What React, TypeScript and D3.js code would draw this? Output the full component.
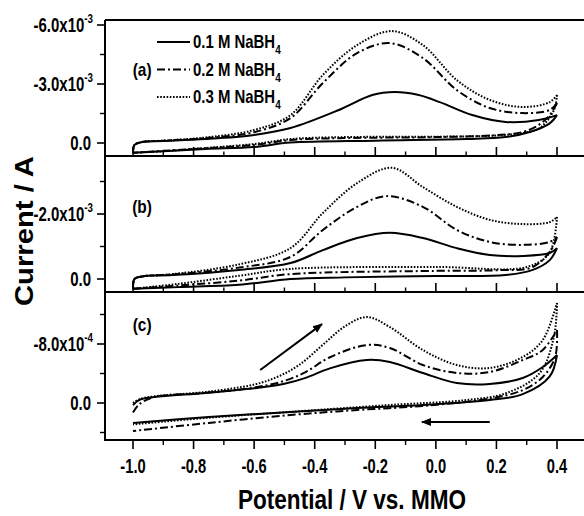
import * as d3 from "d3";

type Pt = [number, number];

// potential axis (V vs. MMO)
const xMajor = [-1.0, -0.8, -0.6, -0.4, -0.2, 0.0, 0.2, 0.4];
const xMinor = [-0.9, -0.7, -0.5, -0.3, -0.1, 0.1, 0.3];
const xLabels = ["-1.0", "-0.8", "-0.6", "-0.4", "-0.2", "0.0", "0.2", "0.4"];

const seriesNames = ["0.1 M NaBH", "0.2 M NaBH", "0.3 M NaBH"];
const panelTags = ["(a)", "(b)", "(c)"];

// panel (a), current in 1e-3 A
const a01Fwd: Pt[] = [[-1.0, 0.5], [-0.995, 0.1], [-0.97, -0.05], [-0.9, -0.1], [-0.76, -0.2], [-0.6, -0.41], [-0.48, -0.76], [-0.32, -1.68], [-0.21, -2.44], [-0.135, -2.59], [-0.06, -2.45], [0.013, -2.08], [0.12, -1.42], [0.23, -1.07], [0.34, -1.17], [0.4, -1.42]];
const a01Rev: Pt[] = [[0.4, -1.42], [0.376, -1.0], [0.31, -0.56], [0.23, -0.3], [0.1, -0.2], [-0.2, -0.12], [-0.48, -0.02], [-0.6, 0.2], [-0.76, 0.3], [-0.9, 0.42], [-1.0, 0.5]];
const a02Fwd: Pt[] = [[-1.0, 0.5], [-0.995, 0.1], [-0.97, -0.05], [-0.9, -0.12], [-0.76, -0.25], [-0.6, -0.55], [-0.48, -1.27], [-0.373, -3.05], [-0.26, -4.57], [-0.152, -5.08], [-0.043, -4.32], [0.069, -2.69], [0.178, -1.78], [0.287, -1.52], [0.376, -1.68], [0.4, -2.03]];
const a02Rev: Pt[] = [[0.4, -2.03], [0.376, -1.42], [0.34, -0.92], [0.287, -0.56], [0.2, -0.4], [0.0, -0.3], [-0.3, -0.25], [-0.48, -0.15], [-0.6, 0.1], [-0.8, 0.3], [-0.9, 0.4], [-1.0, 0.5]];
const a03Fwd: Pt[] = [[-1.0, 0.5], [-0.995, 0.1], [-0.97, -0.05], [-0.9, -0.12], [-0.76, -0.28], [-0.6, -0.66], [-0.48, -1.42], [-0.373, -3.46], [-0.26, -4.98], [-0.145, -5.69], [-0.043, -4.98], [0.069, -3.2], [0.178, -2.19], [0.287, -1.83], [0.376, -2.08], [0.4, -2.44]];
const a03Rev: Pt[] = [[0.4, -2.44], [0.39, -1.68], [0.343, -0.76], [0.287, -0.51], [0.2, -0.38], [0.0, -0.32], [-0.3, -0.3], [-0.48, -0.2], [-0.6, 0.05], [-0.8, 0.3], [-0.9, 0.42], [-1.0, 0.5]];

// panel (b), current in 1e-3 A
const b01Fwd: Pt[] = [[-1.0, 0.3], [-0.995, 0.0], [-0.97, -0.08], [-0.87, -0.12], [-0.65, -0.28], [-0.48, -0.49], [-0.373, -0.89], [-0.26, -1.26], [-0.152, -1.42], [-0.043, -1.26], [0.069, -0.95], [0.178, -0.74], [0.287, -0.71], [0.376, -0.8], [0.4, -0.95]];
const b01Rev: Pt[] = [[0.4, -0.95], [0.376, -0.58], [0.32, -0.28], [0.23, -0.12], [0.0, -0.09], [-0.3, -0.05], [-0.48, 0.0], [-0.65, 0.18], [-0.85, 0.25], [-1.0, 0.3]];
const b02Fwd: Pt[] = [[-1.0, 0.3], [-0.995, 0.0], [-0.97, -0.08], [-0.87, -0.14], [-0.65, -0.35], [-0.48, -0.68], [-0.373, -1.51], [-0.26, -2.22], [-0.162, -2.55], [-0.043, -2.22], [0.069, -1.51], [0.178, -1.14], [0.287, -1.05], [0.376, -1.14], [0.4, -1.29]];
const b02Rev: Pt[] = [[0.4, -1.29], [0.38, -0.89], [0.32, -0.37], [0.2, -0.27], [0.0, -0.25], [-0.48, -0.15], [-0.65, 0.05], [-0.85, 0.2], [-1.0, 0.3]];
const b03Fwd: Pt[] = [[-1.0, 0.3], [-0.995, 0.0], [-0.97, -0.08], [-0.87, -0.15], [-0.65, -0.45], [-0.48, -0.95], [-0.373, -2.03], [-0.26, -2.95], [-0.145, -3.42], [-0.043, -2.83], [0.069, -2.22], [0.178, -1.82], [0.287, -1.69], [0.376, -1.75], [0.4, -1.91]];
const b03Rev: Pt[] = [[0.4, -1.91], [0.375, -0.8], [0.3, -0.37], [0.0, -0.37], [-0.48, -0.31], [-0.65, -0.1], [-0.85, 0.15], [-1.0, 0.3]];

// panel (c), current in 1e-4 A
const c01Fwd: Pt[] = [[-1.0, 0.3], [-0.98, -0.4], [-0.93, -0.8], [-0.76, -1.36], [-0.6, -2.0], [-0.5, -2.6], [-0.43, -3.4], [-0.35, -4.7], [-0.228, -5.83], [-0.152, -5.56], [-0.043, -4.07], [0.069, -2.71], [0.178, -2.58], [0.287, -3.39], [0.353, -4.88], [0.4, -6.51]];
const c01Rev: Pt[] = [[0.4, -6.51], [0.376, -3.6], [0.287, -1.2], [0.178, -0.41], [-0.043, 0.27], [-0.26, 0.68], [-0.48, 1.22], [-0.75, 1.9], [-1.0, 2.7]];
const c02Fwd: Pt[] = [[-1.0, 1.3], [-0.98, 0.2], [-0.93, -0.8], [-0.76, -1.36], [-0.6, -2.1], [-0.5, -3.0], [-0.43, -4.2], [-0.35, -6.2], [-0.228, -7.86], [-0.152, -7.46], [-0.043, -5.15], [0.069, -4.07], [0.178, -4.2], [0.287, -5.83], [0.353, -7.19], [0.4, -9.9]];
const c02Rev: Pt[] = [[0.4, -9.9], [0.394, -6.24], [0.353, -3.53], [0.287, -1.76], [0.178, -0.6], [-0.043, 0.4], [-0.26, 0.95], [-0.48, 1.63], [-0.75, 2.7], [-1.0, 3.8]];
const c03Fwd: Pt[] = [[-1.0, 0.0], [-0.98, -0.5], [-0.93, -0.9], [-0.76, -1.5], [-0.6, -2.5], [-0.52, -3.6], [-0.45, -5.2], [-0.373, -7.9], [-0.3, -10.4], [-0.228, -11.66], [-0.152, -10.3], [-0.043, -7.19], [0.069, -5.15], [0.178, -4.75], [0.287, -6.24], [0.353, -8.54], [0.4, -13.56]];
const c03Rev: Pt[] = [[0.4, -13.56], [0.39, -9.0], [0.343, -4.07], [0.234, -1.36], [0.1, -0.4], [-0.152, 0.27], [-0.48, 1.2], [-0.75, 2.0], [-1.0, 2.9]];

// y ticks per panel
const aMajor = [-6, -3, 0];
const aMinor = [-4.5, -1.5];
const aLabels = [["-6.0x10", "-3"], ["-3.0x10", "-3"], ["0.0", ""]];
const bMajor = [-2, 0];
const bMinor = [-3, -1];
const bLabels = [["-2.0x10", "-3"], ["0.0", ""]];
const cMajor = [-8, 0];
const cMinor = [-12, -4, 4];
const cLabels = [["-8.0x10", "-4"], ["0.0", ""]];

// scan direction arrows in panel (c), 1e-4 A
const arrowForward: Pt[] = [[-0.58, -4.47], [-0.376, -10.7]];
const arrowReverse: Pt[] = [[0.178, 2.58], [-0.046, 2.58]];

const FONT = "'Liberation Sans', Arial, Helvetica, sans-serif";
const dashes = ["none", "8,3,2,3", "1.6,1.6"];

const panels = [
  { top: 20, bottom: 156, zeroY: 143, refY: 25, ref: aMajor[0], major: aMajor, minor: aMinor, labels: aLabels, curves: [[a01Fwd, a01Rev], [a02Fwd, a02Rev], [a03Fwd, a03Rev]], tagY: 76 },
  { top: 156, bottom: 292, zeroY: 279, refY: 214, ref: bMajor[0], major: bMajor, minor: bMinor, labels: bLabels, curves: [[b01Fwd, b01Rev], [b02Fwd, b02Rev], [b03Fwd, b03Rev]], tagY: 213 },
  { top: 292, bottom: 440, zeroY: 403, refY: 344, ref: cMajor[0], major: cMajor, minor: cMinor, labels: cLabels, curves: [[c01Fwd, c01Rev], [c02Fwd, c02Rev], [c03Fwd, c03Rev]], tagY: 331 },
];

const plotLeft = 105;
const plotRight = 584;

export default function App() {
  const x = d3.scaleLinear().domain([-1, 0.4]).range([133, 557]);

  return (
    <div style={{ position: "absolute", left: 0, top: 0 }}>
      <svg width={584} height={516} style={{ display: "block", background: "#fff" }} fontFamily={FONT} fontWeight="bold">
        <defs>
          <marker id="head" viewBox="0 0 10 10" refX="9" refY="5" markerWidth="5" markerHeight="5" orient="auto">
            <path d="M0,1 L10,5 L0,9 Z" fill="#000" />
          </marker>
        </defs>
        {panels.map((p, pi) => {
          const y = d3.scaleLinear().domain([0, p.ref]).range([p.zeroY, p.refY]);
          const line = d3.line<Pt>().x(d => x(d[0])).y(d => y(d[1])).curve(d3.curveCatmullRom.alpha(0.5));
          const last = pi === panels.length - 1;
          return (
            <g key={pi}>
              {p.curves.map((pair, si) =>
                pair.map((branch, bi) => (
                  <path key={`${si}-${bi}`} d={line(branch) || ""} fill="none" stroke="#000" strokeWidth={2}
                    strokeDasharray={dashes[si]} strokeLinejoin="round" />
                ))
              )}
              {/* bottom axis line */}
              <line x1={plotLeft} x2={plotRight} y1={p.bottom} y2={p.bottom} stroke="#000" strokeWidth={2} />
              {xMajor.map(v => (
                <line key={`M${v}`} x1={x(v)} x2={x(v)} y1={p.bottom} y2={last ? p.bottom + 9 : p.bottom - 9} stroke="#000" strokeWidth={1.6} />
              ))}
              {xMinor.map(v => (
                <line key={`m${v}`} x1={x(v)} x2={x(v)} y1={p.bottom} y2={last ? p.bottom + 5 : p.bottom - 4.5} stroke="#000" strokeWidth={1.4} />
              ))}
              {p.major.map(v => (
                <line key={`yM${v}`} x1={plotLeft - 8} x2={plotLeft} y1={y(v)} y2={y(v)} stroke="#000" strokeWidth={1.6} />
              ))}
              {p.minor.map(v => (
                <line key={`ym${v}`} x1={plotLeft - 5} x2={plotLeft} y1={y(v)} y2={y(v)} stroke="#000" strokeWidth={1.4} />
              ))}
              {p.major.map((v, i) => (
                <g key={`yl${v}`} transform={`translate(${p.labels[i][1] ? 93 : 91},${y(v) + 7}) scale(0.75,1)`}>
                  <text textAnchor="end" fontSize={20}>
                    {p.labels[i][0]}
                    {p.labels[i][1] && <tspan dy={-9} fontSize={13}>{p.labels[i][1]}</tspan>}
                  </text>
                </g>
              ))}
              <g transform={`translate(${x(-0.97)},${p.tagY}) scale(0.86,1)`}>
                <text textAnchor="middle" fontSize={18}>{panelTags[pi]}</text>
              </g>
            </g>
          );
        })}
        {/* frame */}
        <line x1={plotLeft} x2={plotRight} y1={20} y2={20} stroke="#000" strokeWidth={2} />
        <line x1={plotLeft} x2={plotLeft} y1={20} y2={441} stroke="#000" strokeWidth={2} />

        {/* scan direction arrows */}
        {(() => {
          const p = panels[2];
          const y = d3.scaleLinear().domain([0, p.ref]).range([p.zeroY, p.refY]);
          return [arrowForward, arrowReverse].map((a, i) => (
            <line key={`ar${i}`} x1={x(a[0][0])} y1={y(a[0][1])} x2={x(a[1][0])} y2={y(a[1][1])}
              stroke="#000" strokeWidth={2} markerEnd="url(#head)" />
          ));
        })()}

        {/* legend */}
        {seriesNames.map((name, i) => (
          <g key={name}>
            <line x1={157} x2={190} y1={42 + i * 27.5} y2={42 + i * 27.5} stroke="#000" strokeWidth={2} strokeDasharray={dashes[i]} />
            <g transform={`translate(193,${48 + i * 27.5}) scale(0.83,1)`}>
              <text fontSize={18}>
                {name}
                <tspan dy={6} fontSize={12}>4</tspan>
              </text>
            </g>
          </g>
        ))}

        {/* x tick labels */}
        {xMajor.map((v, i) => (
          <g key={`xl${v}`} transform={`translate(${x(v)},${473}) scale(0.7,1)`}>
            <text textAnchor="middle" fontSize={21}>{xLabels[i]}</text>
          </g>
        ))}

        {/* axis titles */}
        <text x={352} y={509} textAnchor="middle" fontSize={27} textLength={228} lengthAdjust="spacingAndGlyphs">Potential / V vs. MMO</text>
        <text transform="translate(33,231) rotate(-90)" textAnchor="middle" fontSize={26} textLength={150} lengthAdjust="spacingAndGlyphs">Current / A</text>
      </svg>
    </div>
  );
}
